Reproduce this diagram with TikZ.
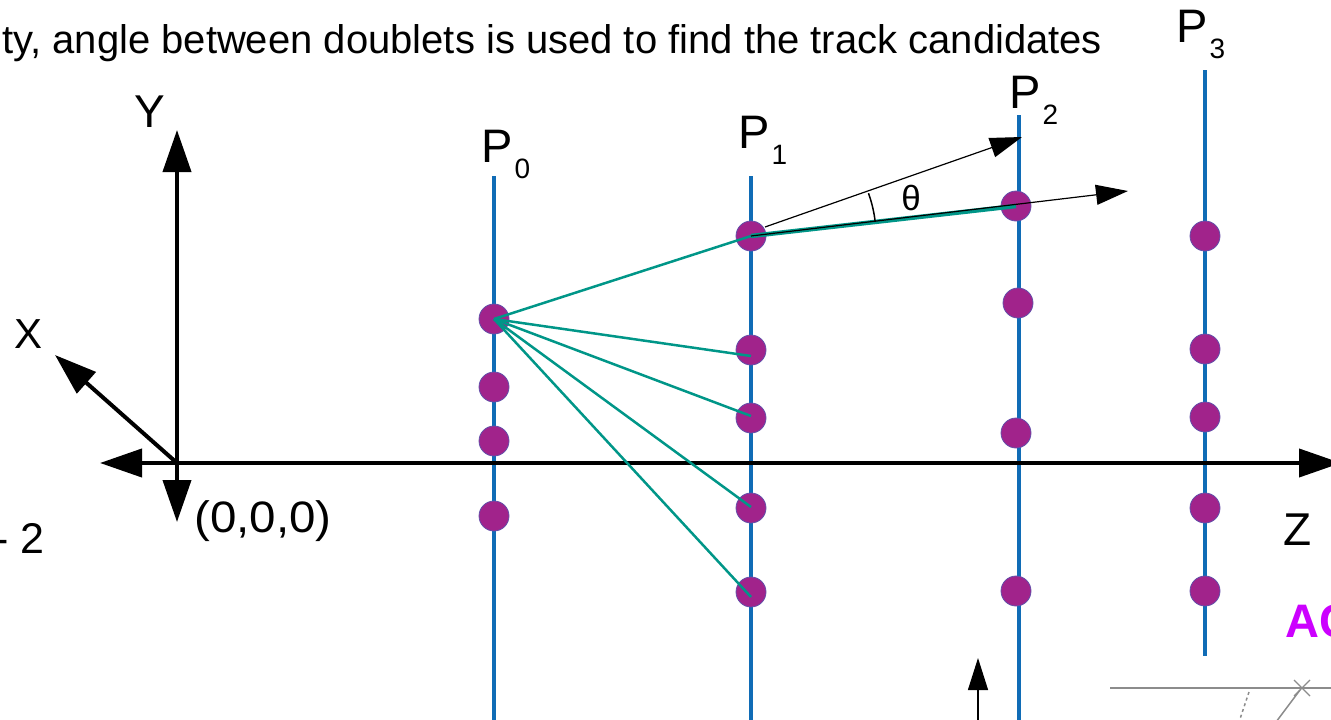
\documentclass[tikz,border=0pt]{standalone}
\usepackage{fontspec}
\setmainfont{Liberation Sans}
\usetikzlibrary{arrows.meta}
\definecolor{detblue}{RGB}{16,108,182}
\definecolor{hitfill}{RGB}{161,35,139}
\definecolor{hitedge}{RGB}{100,80,170}
\definecolor{trackteal}{RGB}{0,150,136}
\definecolor{acmag}{RGB}{204,0,255}
\definecolor{sketchgray}{RGB}{140,140,140}
\newcommand\fsz[1]{\fontsize{#1}{#1}\selectfont}
\newcommand\plabel[1]{\fsz{47}P\kern2pt\raisebox{-16pt}{\fsz{28}#1}}
\begin{document}
\begin{tikzpicture}[x=1pt,y=-1pt,
  axis/.style={line width=4pt,-{Triangle[length=42pt,width=28pt]}},
  plane/.style={detblue,line width=4pt},
  hit/.style={circle,fill=hitfill,draw=hitedge,line width=0.8pt,minimum size=30pt,inner sep=0pt},
  seg/.style={trackteal,line width=2.5pt},
  thinarrow/.style={line width=1.2pt,-{Triangle[length=32pt,width=20pt]}},
  lbl/.style={inner sep=0pt,anchor=base}]
\useasboundingbox (0,0) rectangle (1331,720);
\clip (0,0) rectangle (1331,720);

% header text
\node[inner sep=0pt,anchor=base west] (title) at (2,53) {\fsz{40}ty, angle between doublets is used to find the track candidates};

% detector planes
\coordinate (p0t) at (494,176); \coordinate (p0b) at (494,725);
\coordinate (p1t) at (751,176); \coordinate (p1b) at (751,725);
\coordinate (p2t) at (1019,115); \coordinate (p2b) at (1019,725);
\coordinate (p3t) at (1205,70); \coordinate (p3b) at (1205,656);
\draw[plane] (p0t) -- (p0b);
\draw[plane] (p1t) -- (p1b);
\draw[plane] (p2t) -- (p2b);
\draw[plane] (p3t) -- (p3b);

% plane labels
\node[inner sep=0pt,anchor=base west] (P0) at (481,162) {\plabel{0}};
\node[inner sep=0pt,anchor=base west] (P1) at (738,148) {\plabel{1}};
\node[inner sep=0pt,anchor=base west] (P2) at (1009,108) {\plabel{2}};
\node[inner sep=0pt,anchor=base west] (P3) at (1176,42) {\plabel{3}};

% axes
\coordinate (O) at (177,463);
\coordinate (Yt) at (177,130);
\coordinate (Yd) at (177,522);
\coordinate (Xt) at (55,355);
\coordinate (Zl) at (100,463);
\coordinate (Zr) at (1341,463);
\draw[axis] (O) -- (Zr);
\draw[axis] (O) -- (Zl);
\draw[axis] (O) -- (Yt);
\draw[axis] (O) -- (Yd);
\draw[axis] (O) -- (Xt);

\node[lbl] (Ylab) at (150,127) {\fsz{46}Y};
\node[lbl] (Xlab) at (29,348) {\fsz{42}X};
\node[lbl] (Zlab) at (1298,545) {\fsz{46}Z};
\node[inner sep=0pt,anchor=base west] (orig) at (194,532) {\scalebox{1.08}[1]{\fsz{44}(0,0,0)}};
\node[inner sep=0pt,anchor=base east] (two) at (45,553) {\fsz{43}- 2};

% hits
\node[hit] (h0a) at (494,319) {};
\node[hit] (h0b) at (494,387) {};
\node[hit] (h0c) at (494,441) {};
\node[hit] (h0d) at (494,516) {};
\node[hit] (h1a) at (751,236) {};
\node[hit] (h1b) at (751,350) {};
\node[hit] (h1c) at (751,418) {};
\node[hit] (h1d) at (751,508) {};
\node[hit] (h1e) at (751,592) {};
\node[hit] (h2a) at (1016,206) {};
\node[hit] (h2b) at (1018,303) {};
\node[hit] (h2c) at (1016,433) {};
\node[hit] (h2d) at (1016,591) {};
\node[hit] (h3a) at (1205,236) {};
\node[hit] (h3b) at (1205,349) {};
\node[hit] (h3c) at (1205,417) {};
\node[hit] (h3d) at (1205,508) {};
\node[hit] (h3e) at (1205,591) {};

% doublet segments
\draw[seg] (h0a.center) -- (h1a.center);
\draw[seg] (h0a.center) -- ([yshift=-6pt]h1b.center);
\draw[seg] (h0a.center) -- ([yshift=2pt]h1c.center);
\draw[seg] (h0a.center) -- ([yshift=1pt]h1d.center);
\draw[seg] (h0a.center) -- ([yshift=-5pt]h1e.center);
\draw[trackteal,line width=4.5pt] (h1a.center) -- (h2a.center);

% direction arrows and angle
\coordinate (dirA) at (1022,137);
\coordinate (dirB) at (1128,191);
\draw[thinarrow] ([xshift=14pt,yshift=9pt]h1a.center) -- (dirA);
\draw[thinarrow] (h1a.center) -- (dirB);
\draw[line width=1.5pt] (h1a.center) ++(6.5:125pt) arc[start angle=6.5,end angle=20,radius=125pt];
\node[lbl] (theta) at (911,210) {\fsz{35}θ};

% bottom fragments
\coordinate (b0) at (978,725);
\coordinate (b1) at (978,658);
\draw[thinarrow] (b0) -- (b1);
\node[inner sep=0pt,anchor=base west,text=acmag] (ac) at (1285,637) {\fsz{47}\bfseries AC};
\draw[sketchgray,line width=2pt] (1110,688) -- (1340,688);
\draw[sketchgray,line width=1.3pt] (1294,680) -- (1310,696) (1294,696) -- (1310,680);
\draw[sketchgray,line width=1.5pt,dashed] (1249,692) -- (1239,722);
\draw[sketchgray,line width=1.5pt] (1300,690) -- (1276,722);
\end{tikzpicture}
\end{document}
